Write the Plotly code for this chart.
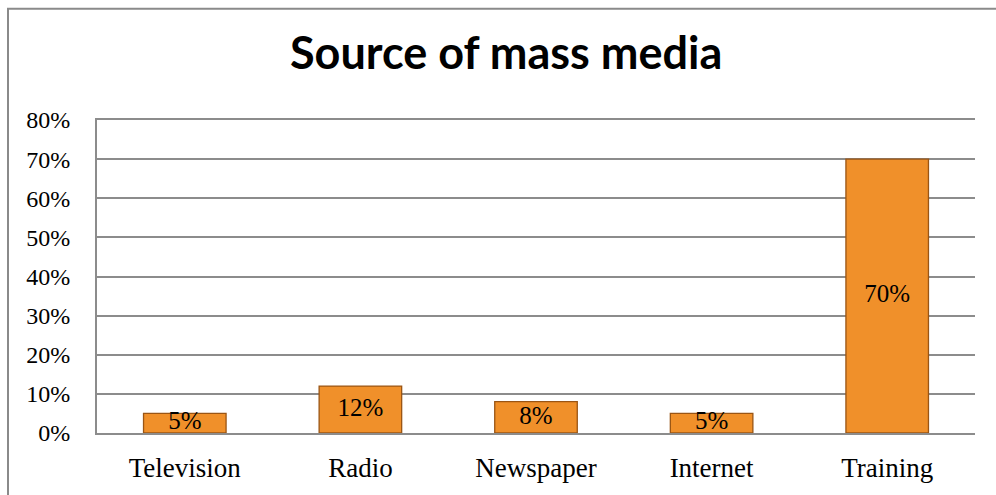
import plotly.graph_objects as go

# Survey results: where respondents got mass-media information
categories = ["Television", "Radio", "Newspaper", "Internet", "Training"]
shares = [0.05, 0.12, 0.08, 0.05, 0.70]
label_text = ["5%", "12%", "8%", "5%", "70%"]

y_tickvals = [0, 0.1, 0.2, 0.3, 0.4, 0.5, 0.6, 0.7, 0.8]

W, H = 996, 495
ML, MR, MT, MB = 97, 21, 120, 60
PW, PH = W - ML - MR, H - MT - MB

serif = "Liberation Serif, Times New Roman, serif"
grid_col = "#8c8c8c"

fig = go.Figure()

fig.add_trace(go.Bar(
    x=categories,
    y=shares,
    width=0.47,
    marker=dict(color="#F0902A", line=dict(color="#9A5514", width=1.3)),
    hoverinfo="skip",
))

# value labels centred on each bar
fig.add_trace(go.Scatter(
    x=categories,
    y=[v / 2 for v in shares],
    mode="text",
    text=label_text,
    textposition="middle center",
    textfont=dict(family=serif, size=25, color="#000000"),
    hoverinfo="skip",
))

fig.update_layout(
    width=W, height=H,
    margin=dict(l=ML, r=MR, t=MT, b=MB),
    paper_bgcolor="white",
    plot_bgcolor="white",
    showlegend=False,
    bargap=0.53,
    xaxis=dict(
        showgrid=False,
        showline=True, linecolor=grid_col, linewidth=2, mirror=True,
        tickfont=dict(family=serif, size=27, color="#000000"),
        ticks="outside", ticklen=10, tickcolor="rgba(0,0,0,0)",
    ),
    yaxis=dict(
        range=[0, 0.8],
        tickvals=y_tickvals,
        tickformat=".0%",
        showgrid=True, gridcolor=grid_col, gridwidth=1.5,
        showline=True, linecolor=grid_col, linewidth=2,
        zeroline=False,
        tickfont=dict(family=serif, size=24, color="#000000"),
        ticks="outside", ticklen=20, tickcolor="rgba(0,0,0,0)",
    ),
    annotations=[dict(
        text="<b>Source of mass media</b>",
        xref="paper", yref="paper",
        x=(506 - ML) / PW, y=1 + (MT - 52) / PH,
        xanchor="center", yanchor="middle",
        showarrow=False,
        font=dict(family="Lato, Open Sans, sans-serif", size=45, color="#000000"),
    )],
    shapes=[dict(
        type="rect", xref="paper", yref="paper",
        x0=(8 - ML) / PW, x1=1.1,
        y0=-0.5, y1=1 + (MT - 8) / PH,
        line=dict(color="#8a8a8a", width=2),
        fillcolor="rgba(0,0,0,0)",
        layer="below",
    )],
)

fig.write_html("out.html")
